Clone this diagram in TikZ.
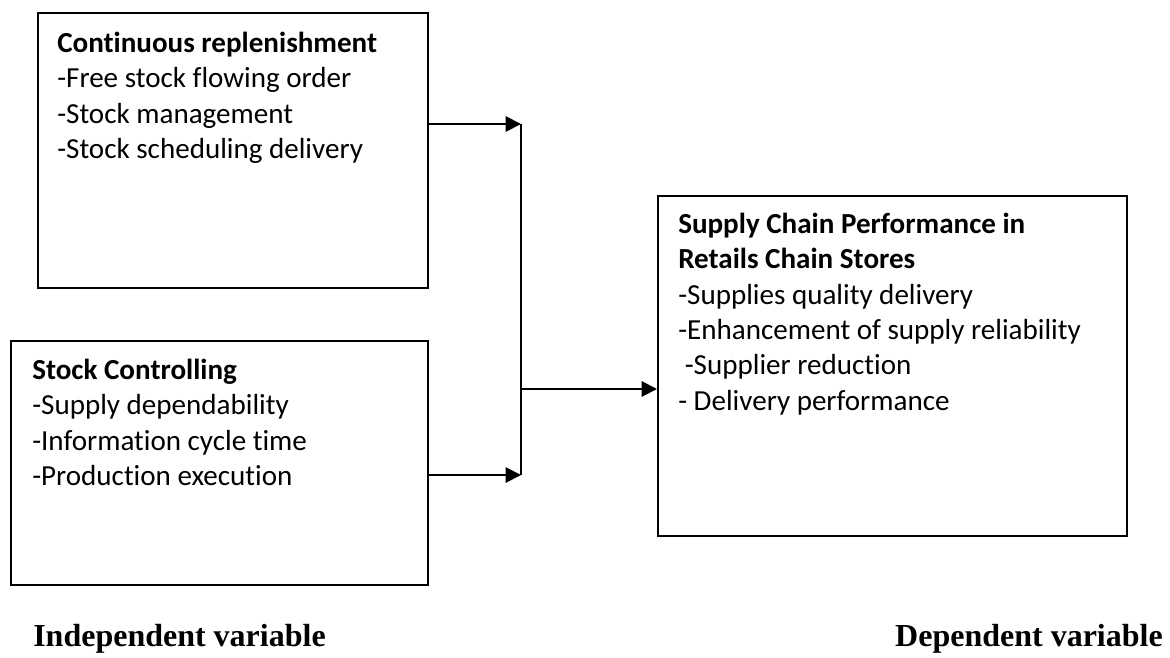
\documentclass[tikz,border=0pt]{standalone}
\usepackage{fontspec}
\setmainfont{Carlito}[Ligatures=CommonOff]
\newfontfamily\varfont{Liberation Serif}
\usetikzlibrary{arrows.meta,positioning}

\begin{document}
\begin{tikzpicture}[x=0.75pt,y=-0.75pt,
	varbox/.style={draw,line width=1.5pt,rectangle,inner sep=0pt,anchor=north west},
	boxtext/.style={align=left,inner sep=0pt,anchor=north west,font=\fontsize{21.8}{26.6}\selectfont},
	conn/.style={line width=1.5pt,-{Triangle[length=11.5pt,width=11.5pt]}},
	varlabel/.style={inner sep=0pt,font=\varfont\bfseries\fontsize{24}{28}\selectfont}]
	\useasboundingbox (0,0) rectangle (1170,657);

	% ramki
	\node[varbox,minimum width=292.5pt,minimum height=206.25pt] (cr) at (37,12) {};
	\node[varbox,minimum width=312.75pt,minimum height=183pt] (sc) at (10,340) {};
	\node[varbox,minimum width=351.75pt,minimum height=255pt] (scp) at (657,195) {};

	\node[boxtext] (crtext) at (57,27) {\strut\textbf{Continuous replenishment}\\
		-Free stock flowing order\\
		-Stock management\\
		-Stock scheduling delivery};
	\node[boxtext] (sctext) at (32,354) {\strut\textbf{Stock Controlling}\\
		-Supply dependability\\
		-Information cycle time\\
		-Production execution};
	\node[boxtext] (scptext) at (678,208) {\strut\textbf{Supply Chain Performance in}\\
		\textbf{Retails Chain Stores}\\
		-Supplies quality delivery\\
		-Enhancement of supply reliability\\
		\ -Supplier reduction\\
		- Delivery performance};

	% strzalki
	\coordinate (jtop) at (521,124);
	\coordinate (jmid) at (521,389);
	\coordinate (jbot) at (521,475);
	\draw[conn] (cr.east |- jtop) -- (jtop);
	\draw[conn] (sc.east |- jbot) -- (jbot);
	\draw[line width=1.5pt] (jtop) -- (jbot);
	\draw[conn] (jmid) -- (jmid -| scp.west);

	\node[varlabel,anchor=base west] (indep) at (33,646) {Independent variable};
	\node[varlabel,anchor=base east] (dep) at (1163,646) {Dependent variable};
\end{tikzpicture}
\end{document}
